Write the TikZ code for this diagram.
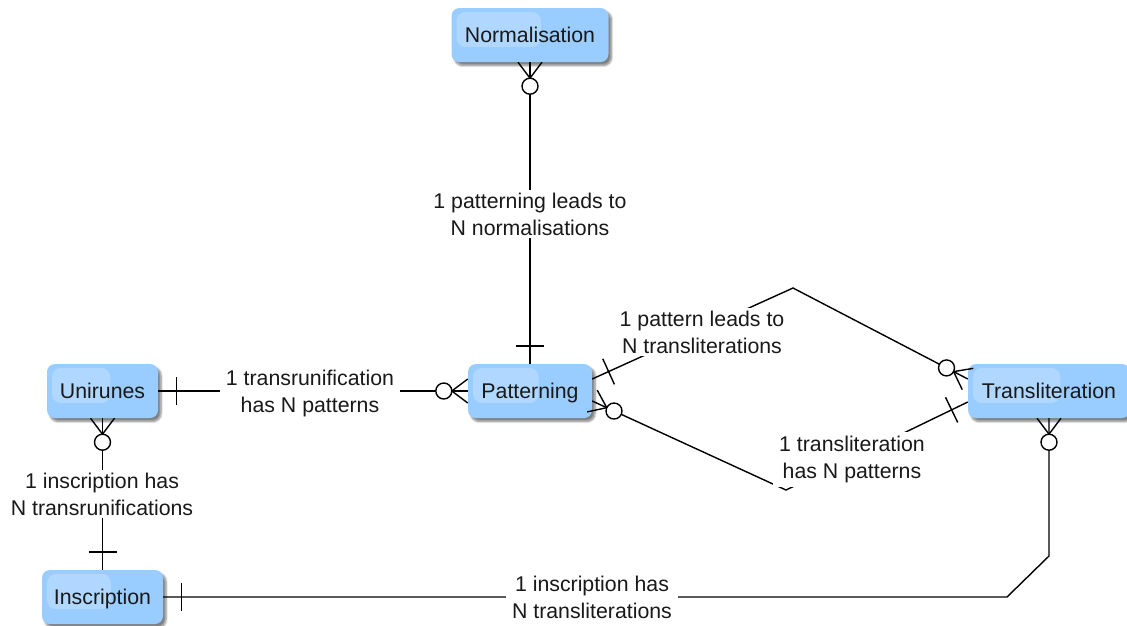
\documentclass[tikz,border=0pt]{standalone}
\usepackage{fontspec}
\setmainfont{Liberation Sans}
\usetikzlibrary{calc,shadows.blur}
\definecolor{entfill}{RGB}{153,204,255}
\definecolor{inktext}{RGB}{25,25,25}

% "many, optional" end: crow's foot plus ring; #1 = end point, #2 = next point on the line
\newcommand\erMany[2]{%
  \draw[erline] ($(#1)!12pt!90:(#2)$) -- ($(#1)!16pt!(#2)$) -- ($(#1)!12pt!-90:(#2)$);
  \draw[erline, fill=white] ($(#1)!24pt!(#2)$) circle[radius=8pt];
}
% "exactly one" end: a single bar across the line
\newcommand\erOne[2]{%
  \draw[erline] ($($(#1)!18pt!(#2)$)!14pt!90:(#2)$) -- ($($(#1)!18pt!(#2)$)!14pt!-90:(#2)$);
}

\begin{document}
\begin{tikzpicture}[x=1pt,y=-1pt,
  font=\fontsize{21.3}{27}\selectfont,
  entity/.style={rectangle, rounded corners=8pt, fill=entfill, minimum height=54pt,
    inner sep=0pt, text=inktext, text height=15pt, text depth=0pt,
    blur shadow={shadow xshift=3pt, shadow yshift=-3.5pt, shadow blur steps=6, shadow opacity=50},
    path picture={\fill[white, opacity=0.22, rounded corners=9pt]
      ([shift={(5pt,-4pt)}]path picture bounding box.north west) rectangle
      ($(path picture bounding box.north west)!0.57!(path picture bounding box.north east)+(0pt,-39pt)$);}},
  erlabel/.style={fill=white, align=center, inner xsep=6pt, inner ysep=3pt, text=inktext},
  erline/.style={line width=1.4pt, black}]

\useasboundingbox (0,0) rectangle (1127,625);

% entities
\node[entity, minimum width=157pt] (norm) at (530,35) {Normalisation};
\node[entity, minimum width=111pt] (uni) at (102.5,391) {Unirunes};
\node[entity, minimum width=124pt] (pat) at (530,391) {Patterning};
\node[entity, minimum width=162pt] (tra) at (1049,391) {Transliteration};
\node[entity, minimum width=121pt] (ins) at (102.5,597) {Inscription};

% bend points and attachment points of the routed relations
\coordinate (c4a) at (1007,597);
\coordinate (c4b) at (1049,556);
\coordinate (c5a) at ([yshift=12pt]pat.east);
\coordinate (c5b) at (793,288);
\coordinate (c5c) at ([yshift=12pt]tra.west);
\coordinate (c6a) at ([yshift=-10pt]pat.east);
\coordinate (c6b) at (786,490);
\coordinate (c6c) at ([yshift=-11pt]tra.west);

% relations
\draw[erline] (norm.south) -- (pat.north);
\draw[erline] (uni.east) -- (pat.west);
\draw[erline] (uni.south) -- (ins.north);
\draw[erline] (ins.east) -- (c4a) -- (c4b) -- (tra.south);
\draw[erline] (c5a) -- (c5b) -- (c5c);
\draw[erline] (c6a) -- (c6b) -- (c6c);

% cardinality ends
\erMany{norm.south}{pat.north}
\erOne{pat.north}{norm.south}
\erOne{uni.east}{pat.west}
\erMany{pat.west}{uni.east}
\erMany{uni.south}{ins.north}
\erOne{ins.north}{uni.south}
\erOne{ins.east}{c4a}
\erMany{tra.south}{c4b}
\erOne{c5a}{c5b}
\erMany{c5c}{c5b}
\erMany{c6a}{c6b}
\erOne{c6c}{c6b}

% relation labels
\node[erlabel] (l1) at (530,214) {1 patterning leads to\\N normalisations};
\node[erlabel] (l2) at (310,393) {1 transrunification\\has N patterns};
\node[erlabel] (l3) at (102,494) {1 inscription has\\N transrunifications};
\node[erlabel] (l4) at (592,597) {1 inscription has\\N transliterations};
\node[erlabel] (l5) at (702,332) {1 pattern leads to\\N transliterations};
\node[erlabel, inner ysep=4.5pt] (l6) at (852,459.5) {1 transliteration\\has N patterns};
\end{tikzpicture}
\end{document}
